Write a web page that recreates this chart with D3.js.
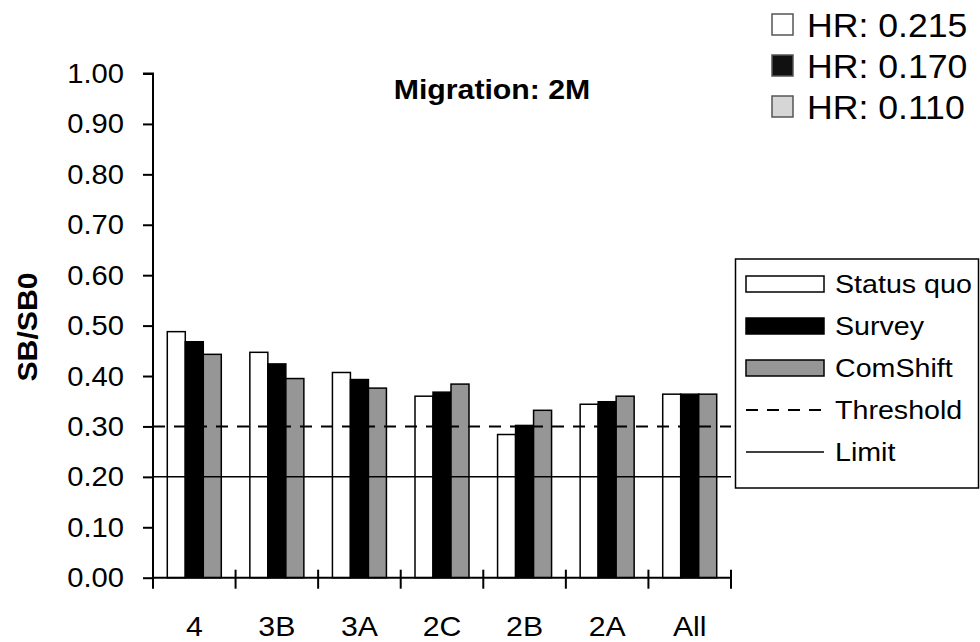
<!DOCTYPE html>
<html>
<head>
<meta charset="utf-8">
<script src="https://cdn.jsdelivr.net/npm/d3@7"></script>
<style>
  body { margin: 0; background: #fff; }
  svg { font-family: "Liberation Sans", Arial, sans-serif; }
</style>
</head>
<body>
<div id="chart"></div>
<script>
// data
const categories = ["4", "3B", "3A", "2C", "2B", "2A", "All"];
const seriesNames = ["Status quo", "Survey", "ComShift"];
const statusQuo = [0.488, 0.447, 0.407, 0.360, 0.284, 0.344, 0.364];
const survey = [0.468, 0.424, 0.393, 0.368, 0.302, 0.349, 0.364];
const comShift = [0.443, 0.395, 0.376, 0.384, 0.332, 0.360, 0.364];
const yTicks = [0, 0.1, 0.2, 0.3, 0.4, 0.5, 0.6, 0.7, 0.8, 0.9, 1.0];
const thresholdValue = 0.30;
const limitValue = 0.20;
const hrLabels = ["HR: 0.215", "HR: 0.170", "HR: 0.110"];

const width = 980, height = 642;
const fills = ["#ffffff", "#000000", "#969696"];
const hrFills = ["#ffffff", "#111111", "#d6d6d6"];
const SX = 1.08; // text in the original is a bit wider than Arial

const svg = d3.select("#chart").append("svg")
  .attr("width", width).attr("height", height);

// put a text at (x,y) and stretch it horizontally
function label(parent, x, y, txt, size, anchor, bold, rot) {
  return parent.append("text")
    .attr("transform", `translate(${x},${y})` + (rot ? ` rotate(${rot})` : "") + ` scale(${SX},1)`)
    .attr("text-anchor", anchor || "start")
    .attr("font-size", size)
    .attr("font-weight", bold ? "bold" : null)
    .attr("fill", "#000")
    .text(txt);
}

const y = d3.scaleLinear().domain([0, 1]).range([577.7, 73.5]);
const x0 = d3.scaleBand().domain(categories).range([153, 731]).padding(0);
const x1 = d3.scaleBand().domain(seriesNames)
  .range([x0.bandwidth() / 2 - 27, x0.bandwidth() / 2 + 27]);

const rows = categories.map((c, i) => ({
  cat: c,
  vals: [statusQuo[i], survey[i], comShift[i]]
}));

// bars
const groups = svg.selectAll(".grp").data(rows).enter().append("g")
  .attr("class", "grp")
  .attr("transform", d => `translate(${x0(d.cat)},0)`);

groups.selectAll("rect")
  .data(d => d.vals.map((v, k) => ({ v, k })))
  .enter().append("rect")
  .attr("x", d => x1(seriesNames[d.k]))
  .attr("width", x1.bandwidth())
  .attr("y", d => y(d.v))
  .attr("height", d => y(0) - y(d.v))
  .attr("fill", d => fills[d.k])
  .attr("stroke", "#000")
  .attr("stroke-width", 1.5);

// reference lines
svg.append("line")
  .attr("x1", 153).attr("x2", 731)
  .attr("y1", y(thresholdValue)).attr("y2", y(thresholdValue))
  .attr("stroke", "#000").attr("stroke-width", 2)
  .attr("stroke-dasharray", "12,9");
svg.append("line")
  .attr("x1", 153).attr("x2", 731)
  .attr("y1", y(limitValue)).attr("y2", y(limitValue))
  .attr("stroke", "#000").attr("stroke-width", 1.5);

// y axis
const yAxis = d3.axisLeft(y).tickValues(yTicks).tickSize(10).tickFormat("");
const gy = svg.append("g").attr("transform", "translate(153,0)").call(yAxis);
gy.select(".domain").attr("stroke-width", 2).attr("d", `M-10,${y(1)}H0V${y(0)}`);
gy.selectAll(".tick line").attr("stroke-width", 2);
yTicks.forEach(v => label(svg, 124, y(v) + 9.5, d3.format(".2f")(v), 27, "end"));

// x axis with crossing ticks at category boundaries
svg.append("line").attr("x1", 153).attr("x2", 731)
  .attr("y1", y(0)).attr("y2", y(0))
  .attr("stroke", "#000").attr("stroke-width", 2);
const bounds = categories.map(c => x0(c)).concat([x0.range()[1]]);
svg.selectAll(".xt").data(bounds).enter().append("line")
  .attr("x1", d => d).attr("x2", d => d)
  .attr("y1", y(0) - 8).attr("y2", y(0) + 11)
  .attr("stroke", "#000").attr("stroke-width", 2);
categories.forEach(c => label(svg, x0(c) + x0.bandwidth() / 2, 636, c, 28, "middle"));

// titles
label(svg, 492, 99, "Migration: 2M", 28, "middle", true);
label(svg, 37, 327, "SB/SB0", 28, "middle", true, -90);

// HR legend (top right)
const hr = svg.append("g");
hrLabels.forEach((t, i) => {
  const cy = 25 + i * 41;
  hr.append("rect").attr("x", 772).attr("y", cy - 11).attr("width", 21).attr("height", 21)
    .attr("fill", hrFills[i]).attr("stroke", "#555").attr("stroke-width", 1.5);
  label(hr, 807, cy + 12, t, 33, "start");
});

// series legend
const lg = svg.append("g");
lg.append("rect").attr("x", 735.5).attr("y", 259).attr("width", 243).attr("height", 229)
  .attr("fill", "#fff").attr("stroke", "#000").attr("stroke-width", 1.5);
const legendItems = seriesNames.concat(["Threshold", "Limit"]);
legendItems.forEach((t, i) => {
  const cy = 284 + i * 42;
  if (i < 3) {
    lg.append("rect").attr("x", 746).attr("y", cy - 8).attr("width", 78).attr("height", 16)
      .attr("fill", fills[i]).attr("stroke", "#000").attr("stroke-width", 1.5);
  } else {
    lg.append("line").attr("x1", 746).attr("x2", 824).attr("y1", cy).attr("y2", cy)
      .attr("stroke", "#000").attr("stroke-width", i === 3 ? 2 : 1.5)
      .attr("stroke-dasharray", i === 3 ? "12,9" : null);
  }
  label(lg, 835, cy + 9, t, 26.5, "start");
});
</script>
</body>
</html>
